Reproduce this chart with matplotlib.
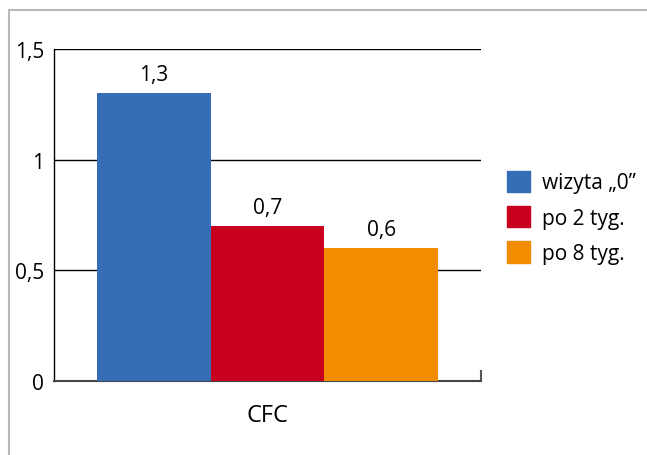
import matplotlib
matplotlib.use("Agg")
import matplotlib.pyplot as plt
from matplotlib.patches import Rectangle

plt.rcParams['font.family'] = ['Open Sans', 'DejaVu Sans']

category = "CFC"
series = ["wizyta \u201e0\u201d", "po 2 tyg.", "po 8 tyg."]
values = [1.3, 0.7, 0.6]
value_labels = ["1,3", "0,7", "0,6"]
colors = ["#356EB6", "#C8001E", "#F28C00"]
yticks = [0, 0.5, 1, 1.5]
ytick_labels = ["0", "0,5", "1", "1,5"]

fig = plt.figure(figsize=(6.47, 4.56), dpi=100)
# figure frame
fig.patches.append(Rectangle((9/647, -0.1), 1.2, 1 - 11/456 + 0.1, transform=fig.transFigure,
                             fill=False, edgecolor="#b8b8b8", linewidth=1.5))

ax = fig.add_axes([54/647, 1 - 382/456, 427/647, 332/456])
n = len(values)
w = 0.8 / n
for i, (v, c, lab, vl) in enumerate(zip(values, colors, series, value_labels)):
    x = -0.4 + w * (i + 0.5)
    ax.bar(x, v, width=w, color=c, label=lab, zorder=3)
    ax.annotate(vl, (x, v), xytext=(0, 6), textcoords="offset points",
                ha="center", va="bottom", fontsize=15)

ax.set_xlim(-0.5, 0.5)
ax.set_ylim(0, 1.5)
ax.set_yticks(yticks)
ax.set_yticklabels(ytick_labels, fontsize=15)
ax.tick_params(axis="y", length=0, pad=7)
ax.set_xticks([0])
ax.set_xticklabels([category], fontsize=17)
ax.tick_params(axis="x", length=0, pad=16)
ax.set_xticks([0.5], minor=True)
ax.tick_params(axis="x", which="minor", direction="in", length=8, width=1.5, color="#555555")
for y in yticks[1:]:
    ax.axhline(y, color="black", linewidth=1, zorder=1)
for s in ["top", "right"]:
    ax.spines[s].set_visible(False)
ax.spines["left"].set_color("black")
ax.spines["left"].set_linewidth(1)
ax.spines["bottom"].set_color("#444444")
ax.spines["bottom"].set_linewidth(1.5)

handles = [Rectangle((0, 0), 1, 1, color=c) for c in colors]
fig.legend(handles, series, loc="upper left", bbox_to_anchor=(488/647, 1 - 153/456),
           frameon=False, fontsize=15, handlelength=1.1, handleheight=1.2,
           handletextpad=0.6, labelspacing=0.6)

fig.savefig("out.png", dpi=100)
